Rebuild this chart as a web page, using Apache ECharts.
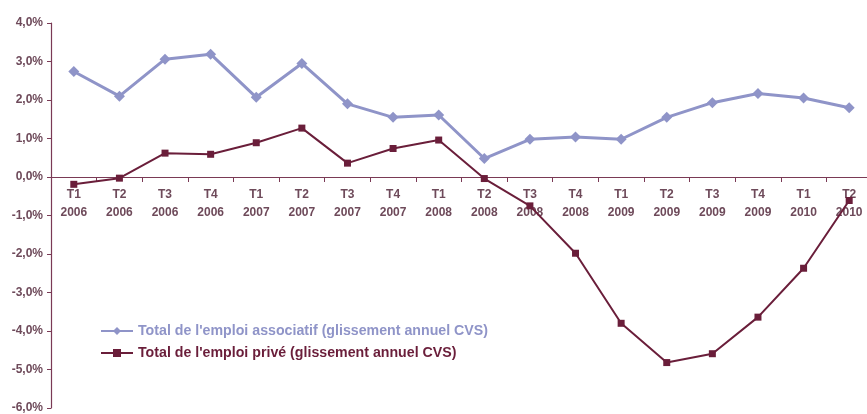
<!DOCTYPE html>
<html><head><meta charset="utf-8">
<script src="https://cdn.jsdelivr.net/npm/echarts@6/dist/echarts.min.js"></script>
<style>html,body{margin:0;padding:0;background:#fff}#c{width:867px;height:414px}</style>
</head><body><div id="c"></div>
<script>
const quarters = ["T1","T2","T3","T4","T1","T2","T3","T4","T1","T2","T3","T4","T1","T2","T3","T4","T1","T2"];
const years = ["2006","2006","2006","2006","2007","2007","2007","2007","2008","2008","2008","2008","2009","2009","2009","2009","2010","2010"];
const associatif = [2.74,2.10,3.06,3.19,2.07,2.95,1.90,1.55,1.61,0.48,0.98,1.04,0.98,1.55,1.93,2.17,2.05,1.80];
const prive = [-0.19,-0.03,0.62,0.59,0.89,1.27,0.36,0.74,0.96,-0.04,-0.75,-1.98,-3.80,-4.82,-4.59,-3.64,-2.37,-0.61];
const seriesNames = ["Total de l'emploi associatif (glissement annuel CVS)","Total de l'emploi privé (glissement annuel CVS)"];
const categories = quarters.map((q,i)=>q+"\n"+years[i]);

const axisCol = '#7a3a55';
const textCol = '#6e4a5a';
const blue = '#8f94c8';
const maroon = '#6a1e3a';
const chart = echarts.init(document.getElementById('c'));
chart.setOption({
  animation:false,
  grid:{left:51,right:-5,top:23,bottom:6,containLabel:false,outerBoundsMode:'none'},
  legend:{
    orient:'vertical', left:95, top:319, itemGap:8, itemWidth:32, itemHeight:10,
    textStyle:{fontFamily:'Liberation Sans, Arial', fontWeight:'bold', fontSize:14.2},
    data:[{name:seriesNames[0],textStyle:{color:blue}},{name:seriesNames[1],textStyle:{color:maroon}}]
  },
  xAxis:{
    type:'category', data:categories, boundaryGap:true, position:'bottom', offset:-231,
    axisLine:{onZero:false,lineStyle:{color:axisCol,width:1.2}},
    axisTick:{show:true,length:5,lineStyle:{color:axisCol}},
    axisLabel:{color:textCol,fontFamily:'Liberation Sans, Arial',fontWeight:'bold',fontSize:12,lineHeight:18,margin:9,interval:0}
  },
  yAxis:{
    type:'value', min:-6, max:4, interval:1,
    splitLine:{show:false},
    axisLine:{show:true,lineStyle:{color:axisCol,width:1.2}},
    axisTick:{show:true,length:4,lineStyle:{color:axisCol}},
    axisLabel:{color:textCol,fontFamily:'Liberation Sans, Arial',fontWeight:'bold',fontSize:12,margin:8,
      formatter:v=>v.toFixed(1).replace('.',',')+'%'}
  },
  series:[
    {name:seriesNames[0],type:'line',data:associatif,symbol:'diamond',symbolSize:11,
      lineStyle:{color:blue,width:3},itemStyle:{color:blue},z:2},
    {name:seriesNames[1],type:'line',data:prive,symbol:'rect',symbolSize:7,
      lineStyle:{color:maroon,width:2},itemStyle:{color:maroon},z:3}
  ]
});
</script></body></html>
